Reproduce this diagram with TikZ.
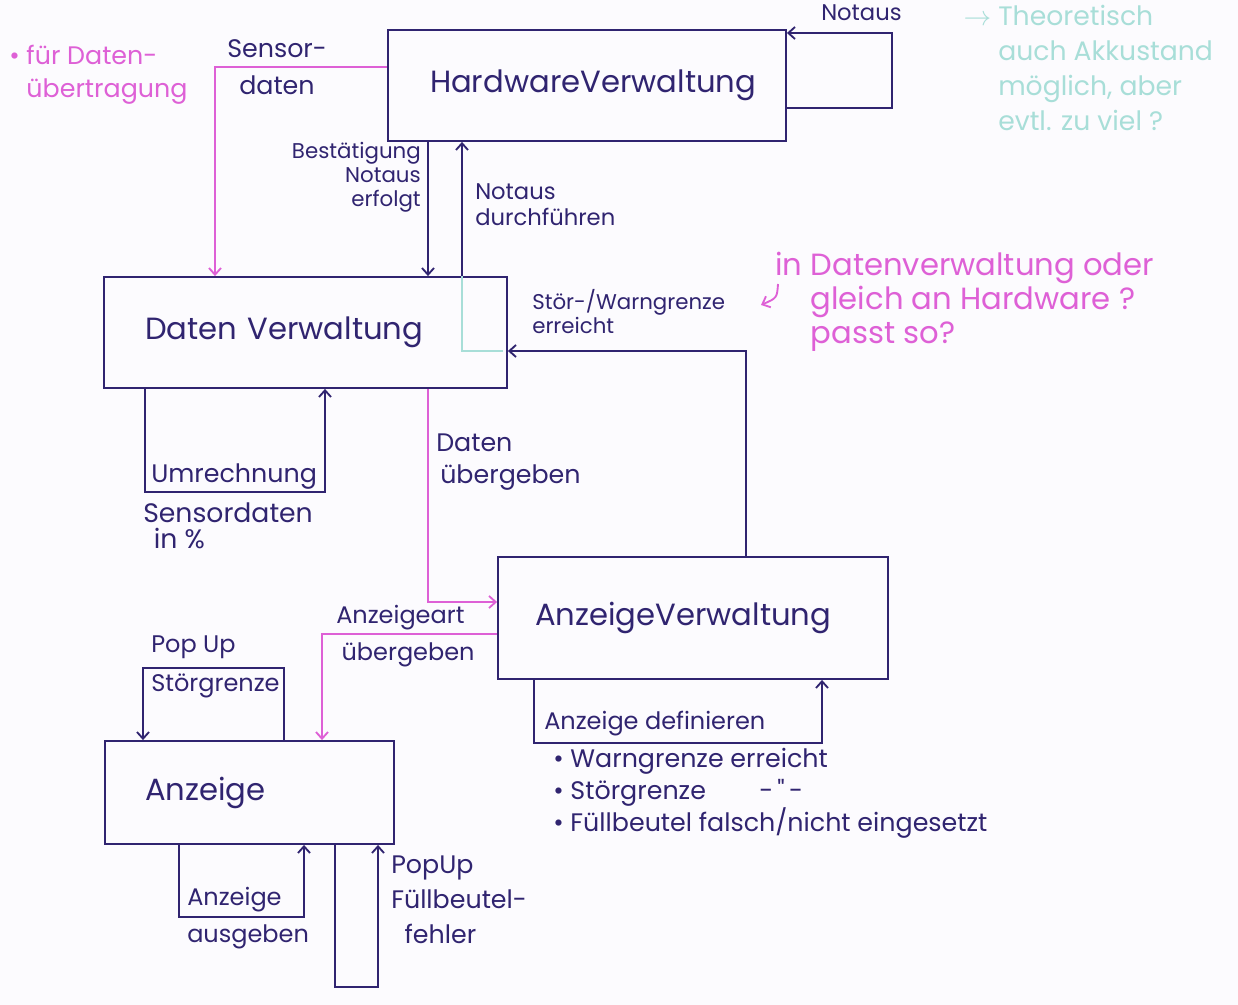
\documentclass[tikz,border=0pt]{standalone}
\usepackage{fontspec}
\setmainfont{Poppins}
\usetikzlibrary{arrows.meta}
\definecolor{ink}{RGB}{48,36,112}
\definecolor{pinkink}{RGB}{222,96,214}
\definecolor{tealink}{RGB}{168,222,216}
\definecolor{paper}{RGB}{252,251,254}
\newcommand\fsz[2]{\fontsize{#1}{#2}\selectfont}
\tikzset{
  box/.style={draw=ink, line width=1.4pt, rectangle, inner ysep=0pt, align=left, text=ink, font=\fsz{23}{30}},
  txt/.style={anchor=north west, inner sep=0.75pt, align=left, text=ink},
  flow/.style={draw=ink, line width=1.4pt, -{Straight Barb[length=5pt,width=9pt]}},
  pflow/.style={flow, draw=pinkink},
  tline/.style={draw=tealink, line width=1.4pt}
}
\begin{document}
\begin{tikzpicture}[x=0.75pt,y=0.75pt,yscale=-1,xscale=1]
    \fill[paper] (0,0) rectangle (1238,1005);
    \useasboundingbox (0,0) rectangle (1238,1005);

    %Shapes: boxes
    \node[box, text width=235.5pt, inner xsep=31.5pt, minimum height=83.25pt] (hw) at (587,85.5) {HardwareVerwaltung};
    \node[box, text width=240.75pt, inner xsep=30.75pt, minimum height=83.25pt] (dv) at (305.5,332.5) {Daten Verwaltung};
    \node[box, text width=237pt, inner xsep=27.75pt, minimum height=91.5pt] (av) at (693,618) {AnzeigeVerwaltung};
    \node[box, text width=156.75pt, inner xsep=30pt, minimum height=77.25pt] (anz) at (249.5,792.5) {Anzeige};

    %Connectors
    \draw[pflow] (hw.west |- 0,67) -| (dv.north -| 215,0);
    \draw[flow] (hw.south -| 428,0) -- (dv.north -| 428,0);
    \draw[tline] (dv.north -| 462,0) |- (503,351);
    \draw[flow] (dv.north -| 462,0) -- (hw.south -| 462,0);
    \draw[flow] (hw.east |- 0,108) -| (892,33) -- (hw.east |- 0,33);
    \draw[flow] (av.north -| 746,0) |- (dv.east |- 0,351);
    \draw[flow] (dv.south -| 145,0) |- (325,492) -- (dv.south -| 325,0);
    \draw[pflow] (dv.south -| 428,0) |- (av.west |- 0,602);
    \draw[pflow] (av.west |- 0,634) -| (anz.north -| 322,0);
    \draw[flow] (av.south -| 534,0) |- (822,743) -- (av.south -| 822,0);
    \draw[flow] (anz.north -| 284,0) |- (143,668) -- (anz.north -| 143,0);
    \draw[flow] (anz.south -| 179,0) |- (304,917) -- (anz.south -| 304,0);
    \draw[flow] (anz.south -| 335,0) |- (378,987) -- (anz.south -| 378,0);

    % Text Node
    \node[txt, text=pinkink, font=\fsz{19}{25}] (fuer) at (8,44) {• für Daten-\\\phantom{• }übertragung};
    % Text Node
    \node[txt, font=\fsz{19}{28}] (sd) at (226,38) {Sensor-\\\hspace{9pt}daten};
    % Text Node
    \node[txt, anchor=north east, align=right, font=\fsz{16}{18}] (best) at (422,141) {Bestätigung\\Notaus\\erfolgt};
    % Text Node
    \node[txt, font=\fsz{17}{20}] (nd) at (474,182) {Notaus\\durchführen};
    % Text Node
    \node[txt, font=\fsz{17}{20}] (notaus) at (820,3) {Notaus};
    % Text Node
    \node[txt, text=tealink, font=\fsz{20}{26.25}] (theo) at (997,4) {\llap{$\rightarrow$\ }Theoretisch\\auch Akkustand\\möglich, aber\\evtl. zu viel ?};
    % Text Node
    \node[txt, text=pinkink, font=\fsz{23}{25.5}] (pn) at (774,251) {in Datenverwaltung oder\\\phantom{in }gleich an Hardware ?\\\phantom{in }passt so?};
    \coordinate (qa) at (778,284);
    \coordinate (qb) at (761,305);
    \draw[pflow] (qa) .. controls (777,298) .. (qb);
    % Text Node
    \node[txt, font=\fsz{16}{18}] (stoer) at (531,288) {Stör-/Warngrenze\\erreicht};
    % Text Node
    \node[txt, font=\fsz{19}{24}] (umr) at (150,462) {Umrechnung};
    % Text Node
    \node[txt, font=\fsz{20}{20}] (sdp) at (142,501) {Sensordaten\\\hspace{8pt}in \%};
    % Text Node
    \node[txt, font=\fsz{19}{24}] (dat) at (435,433) {Daten\\\hspace{3pt}übergeben};
    % Text Node
    \node[txt, font=\fsz{18}{28}] (aart) at (335,604) {Anzeigeart\\\hspace{4pt}übergeben};
    % Text Node
    \node[txt, font=\fsz{18}{29}] (pus) at (150,635) {Pop Up\\Störgrenze};
    % Text Node
    \node[txt, font=\fsz{18}{24}] (adef) at (543,710) {Anzeige definieren};
    % Text Node
    \node[txt, font=\fsz{19}{24}] (bul) at (552,747) {• Warngrenze erreicht\\• Störgrenze\hspace{40pt}-\,\textquotedbl\,-\\• Füllbeutel falsch/nicht eingesetzt};
    % Text Node
    \node[txt, font=\fsz{18}{28}] (anzaus) at (186,886) {Anzeige\\ausgeben};
    % Text Node
    \node[txt, font=\fsz{19}{26}] (puf) at (390,855) {PopUp\\Füllbeutel-\\\hspace{10pt}fehler};

\end{tikzpicture}
\end{document}
